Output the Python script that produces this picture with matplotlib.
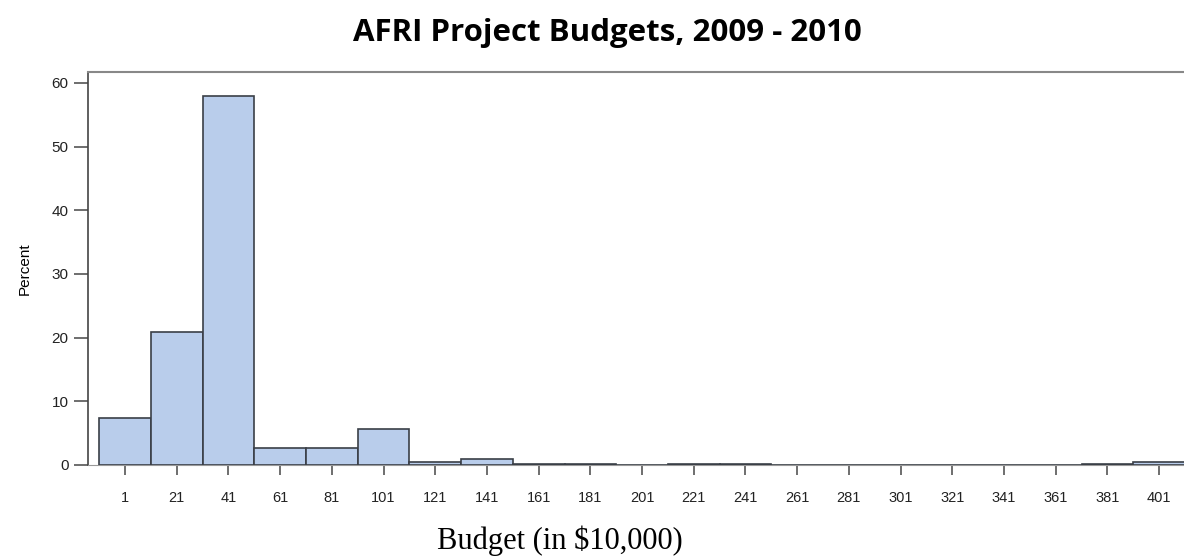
import matplotlib.pyplot as plt

# bin centers (budget, in $10,000) and percent of projects per bin
bin_centers = [1, 21, 41, 61, 81, 101, 121, 141, 161, 181, 201, 221, 241, 261,
               281, 301, 321, 341, 361, 381, 401, 421]
percents = [7.4, 20.9, 57.9, 2.6, 2.7, 5.6, 0.5, 0.9, 0.15, 0.15, 0.0, 0.15,
            0.15, 0.0, 0.0, 0.0, 0.0, 0.0, 0.0, 0.15, 0.5, 0.3]
tick_values = list(range(1, 402, 20))

BAR_COLOR = "#b9cdeb"
EDGE_COLOR = "#3a3f47"

fig = plt.figure(figsize=(11.84, 5.59), dpi=100)
ax = fig.add_axes([88 / 1184, 1 - 465 / 559, 1 - 88 / 1184, (465 - 72) / 559])

ax.bar(bin_centers, percents, width=20, color=BAR_COLOR,
       edgecolor=EDGE_COLOR, linewidth=1.2, clip_on=True, zorder=3)

ax.set_xlim(-13.3, 410.6)
ax.set_ylim(0, 61.7)

ax.set_xticks(tick_values)
ax.set_xticklabels([str(t) for t in tick_values], family="Liberation Sans",
                   fontsize=10.5, color="#222222")
ax.set_yticks(range(0, 61, 10))
ax.set_yticklabels([str(t) for t in range(0, 61, 10)],
                   family="Liberation Sans", fontsize=11, color="#222222")
ax.tick_params(axis="x", length=7, width=1.2, color="#555555", pad=12)
ax.tick_params(axis="y", length=10, width=1.2, color="#555555", pad=4)

ax.spines["right"].set_visible(False)
ax.spines["bottom"].set_color("#999999")
ax.spines["bottom"].set_linewidth(0.8)
ax.spines["left"].set_color("#444444")
ax.spines["left"].set_linewidth(1.2)
ax.spines["top"].set_color("#888888")
ax.spines["top"].set_linewidth(1.5)

ax.set_ylabel("Percent", family="Liberation Sans", fontsize=11, labelpad=14)

fig.text(607 / 1184, 1 - 33 / 559, "AFRI Project Budgets, 2009 - 2010",
         ha="center", va="center", fontsize=22.5, fontweight="bold",
         family="Open Sans")
fig.text(560 / 1184, 1 - 541 / 559, "Budget (in $10,000)", ha="center",
         va="center", fontsize=22, family="Liberation Serif")

fig.savefig("out.png", dpi=100)
